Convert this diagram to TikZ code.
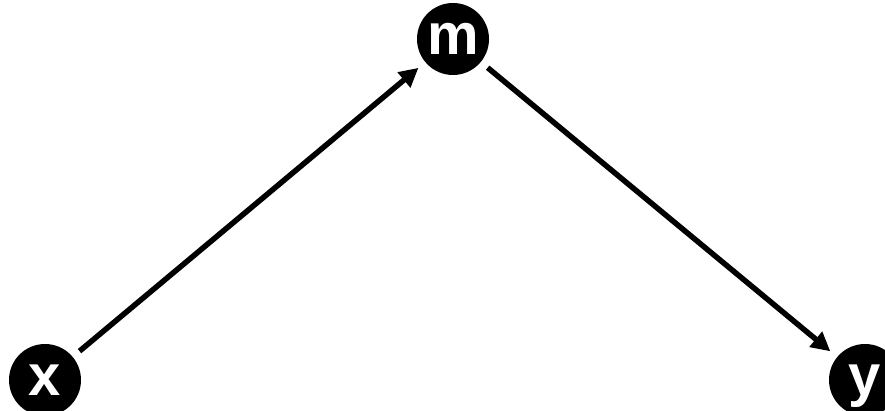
\documentclass[tikz,border=0pt]{standalone}
\usepackage{fontspec}
\setmainfont{Liberation Sans}
\usetikzlibrary{arrows.meta}
\tikzset{
  var/.style={circle, fill=black, text=white, minimum size=72pt, inner sep=0pt,
    outer sep=9pt, font=\fontsize{58}{58}\selectfont\bfseries,
    text height=31pt, text depth=0pt},
  link/.style={draw=black, line width=5.5pt, -{Triangle[length=19pt,width=19pt]}},
}

\begin{document}
\begin{tikzpicture}[x=1pt, y=1pt]
\useasboundingbox (0,0) rectangle (885,410);
\clip (0,0) rectangle (885,410);
% mediator path
\node[var] (x) at (45,30) {x};
\node[var] (m) at (453,371) {m};
\node[var] (y) at (865,30) {y};
\draw[link] (x) -- (m);
\draw[link] (m) -- (y);
\end{tikzpicture}
\end{document}
